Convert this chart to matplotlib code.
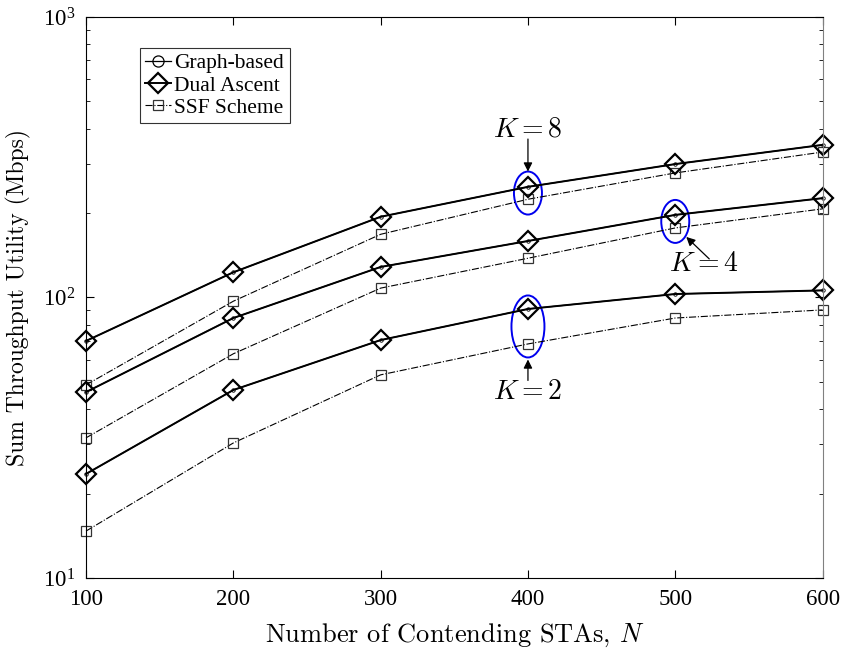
import matplotlib
matplotlib.use("Agg")
import matplotlib.pyplot as plt
from matplotlib.patches import Ellipse
from matplotlib.lines import Line2D
from matplotlib.transforms import ScaledTranslation
import numpy as np

plt.rcParams['font.family'] = ['Liberation Serif', 'DejaVu Serif']
plt.rcParams['mathtext.fontset'] = 'stix'

N = [100, 200, 300, 400, 500, 600]
graph_K8 = [70, 123, 194, 248, 299, 350]
dual_K8 = [70, 123, 194, 248, 299, 350]
ssf_K8 = [48.8, 97, 168, 224, 278, 330]
graph_K4 = [46, 84.5, 128.5, 159, 197, 226]
dual_K4 = [46, 84.5, 128.5, 159, 197, 226]
ssf_K4 = [31.6, 63, 108, 138, 177, 207]
graph_K2 = [23.5, 46.8, 70.5, 91, 102.9, 106]
dual_K2 = [23.5, 46.8, 70.5, 91, 102.9, 106]
ssf_K2 = [14.7, 30.3, 53, 68.3, 84.5, 90.3]

fig = plt.figure(figsize=(8.46, 6.56), dpi=100)
ax = fig.add_axes([0.1017, 0.1189, 0.8706, 0.8552])

for g, d, s in [(graph_K8, dual_K8, ssf_K8),
                (graph_K4, dual_K4, ssf_K4),
                (graph_K2, dual_K2, ssf_K2)]:
    ax.plot(N, s, linestyle='-.', color='black', lw=0.8, marker='s',
            markersize=6.5, markerfacecolor='none', markeredgecolor='#333333',
            markeredgewidth=0.9, clip_on=False)
    ax.plot(N, g, linestyle='-', color='black', lw=0.9, marker='o',
            markersize=2.5, markerfacecolor='none', markeredgewidth=0.6,
            clip_on=False)
    ax.plot(N, d, linestyle='-', color='black', lw=1.4, marker='D',
            markersize=10.5, markerfacecolor='none', markeredgewidth=1.6,
            clip_on=False)

ax.set_yscale('log')
ax.set_xlim(100, 600)
ax.set_ylim(10, 1000)
ax.set_xticks(N)
ax.tick_params(which='both', direction='in', top=True, right=True, labelsize=16.5)
ax.tick_params(axis='x', pad=8)
ax.tick_params(axis='y', pad=8)
ax.tick_params(which='major', length=6)
ax.tick_params(which='minor', length=3)
for sp in ax.spines.values():
    sp.set_linewidth(0.8)
ax.spines['right'].set_color('#808080')

ax.set_ylabel('Sum Throughput Utility (Mbps)', fontsize=17, family='cmr10',
              labelpad=8)
ax.set_xlabel('Number of Contending STAs, $N$', fontsize=19, family='cmr10',
              math_fontfamily='cm', labelpad=8)

h_graph = Line2D([], [], color='black', lw=0.9, marker='o', markersize=8,
                 markerfacecolor='none', markeredgewidth=0.9)
h_dual = Line2D([], [], color='black', lw=1.4, marker='D', markersize=10.5,
                markerfacecolor='none', markeredgewidth=1.6)
h_ssf = Line2D([], [], color='black', lw=0.8, linestyle='-.', marker='s',
               markersize=6.5, markerfacecolor='none', markeredgecolor='#333333',
               markeredgewidth=0.9)
leg = ax.legend([h_graph, h_dual, h_ssf], ['Graph-based', 'Dual Ascent', 'SSF Scheme'],
                loc='upper left', bbox_to_anchor=(0.0732, 0.9447), fontsize=15.5,
                frameon=True, fancybox=False, edgecolor='black', handlelength=1.2,
                handletextpad=0.15, borderpad=0.25, labelspacing=0.1, borderaxespad=0)
leg.get_frame().set_linewidth(0.8)


def anchor(x, y):
    return fig.dpi_scale_trans + ScaledTranslation(x, y, ax.transData)


def mark(x, y, w, h, tip, tail, txt):
    tr = anchor(x, y)
    ax.add_patch(Ellipse((0, 0), w / 100, h / 100, transform=tr, fill=False,
                         edgecolor='#0000ee', lw=1.4, clip_on=False))
    ax.annotate('', xy=(tip[0] / 100, tip[1] / 100), xycoords=tr,
                xytext=(tail[0] / 100, tail[1] / 100), textcoords=tr,
                arrowprops=dict(arrowstyle='-|>', color='black', lw=0.9,
                                mutation_scale=13, shrinkA=0, shrinkB=0))
    ax.text(txt[0] / 100, txt[1] / 100, r'$K=%s$' % txt[2], transform=tr,
            ha='center', va='center', fontsize=20, math_fontfamily='cm')


gm = lambda a, b: np.sqrt(a * b)
mark(N[3], gm(dual_K8[3], ssf_K8[3]), 28, 43, (0, 21.5), (0, 54), (0, 63, 8))
mark(N[4], gm(dual_K4[4], ssf_K4[4]), 28, 43, (11, -15.5), (34, -37.5), (29, -43.5, 4))
mark(N[3], gm(dual_K2[3], ssf_K2[3]), 33, 62, (0, -33), (0, -54), (0, -66, 2))

fig.savefig('out.png', dpi=100)
